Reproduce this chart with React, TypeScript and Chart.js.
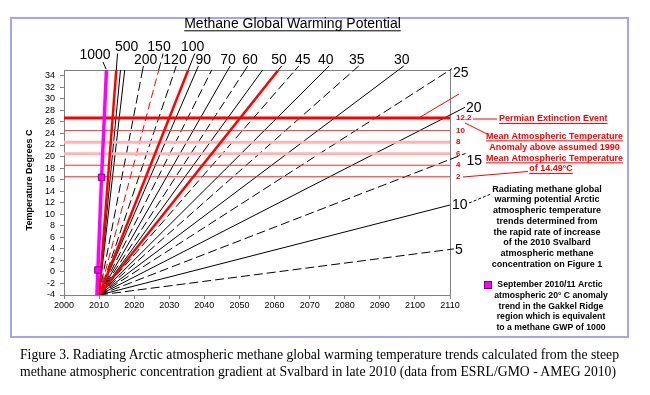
import { useEffect, useRef } from 'react';
import { Chart, registerables } from 'chart.js';

Chart.register(...registerables);

const FONT = '"Liberation Sans", Arial, sans-serif';

// ---- data ----
const xTickYears = [2000, 2010, 2020, 2030, 2040, 2050, 2060, 2070, 2080, 2090, 2100, 2110];
const originYear = 2010;
const originTemp = -4;

// GWP rays radiating from 2010 / -4 C
const gwpValues = [500, 400, 300, 200, 150, 120, 100, 90, 80, 70, 60, 55, 50, 45, 40, 35, 30, 25, 20, 15, 10, 5];
const endYears = [2014.9, 2016.1, 2017.3, 2022.4, 2027.0, 2031.6, 2035.4, 2037.8, 2042.1, 2046.7, 2051.6, 2056.6, 2061.1, 2065.9, 2074.4, 2082.7, 2095.3, 2110, 2110, 2110, 2110, 2110];
const endTemps = [35, 35, 35, 35, 35, 35, 35, 35, 35, 35, 35, 35, 35, 35, 35, 35, 35, 35, 27.2, 19.5, 11.6, 3.9];
const redThickGwps = [500, 100, 50];
const redDashedGwps = [150];
const dashedGwps = [200, 120, 80, 60, 45, 35, 25, 15, 5];

// September 2010/11 Gakkel Ridge trend (GWP 1000)
const magentaYears = [2009.37, 2009.66, 2010.71, 2012.1];
const magentaTemps = [-4, 0.33, 16.4, 35];

// Mean atmospheric temperature levels (14.49 C + anomaly)
const levelTemps = [26.69, 24.49, 22.49, 20.49, 18.49, 16.49];
const levelLabels = ['12.2', '10', '8', '6', '4', '2'];

const radiatingText = [
  'Radiating methane global',
  'warming potential Arctic',
  'atmospheric temperature',
  'trends determined from',
  'the rapid rate of increase',
  'of the 2010 Svalbard',
  'atmospheric methane',
  'concentration on Figure 1',
];
const legendText = [
  'September 2010/11 Arctic',
  'atmospheric 20° C anomaly',
  'trend in the Gakkel Ridge',
  'region which is equivalent',
  'to a methane GWP of 1000',
];
const meanText = [
  'Mean Atmospheric Temperature',
  'Anomaly above assumed 1990',
  'Mean Atmospheric Temperature',
  'of 14.49°C',
];

// label placement (pixels)
const topLabelPos: Record<number, [number, number]> = {
  1000: [95, 55], 500: [126.7, 47.5], 150: [159, 47.5], 100: [192.7, 47.5],
  200: [145.7, 60], 120: [175, 60], 90: [203.3, 60], 70: [228, 60], 60: [250, 60],
  50: [279, 60], 45: [302.7, 60], 40: [325.7, 60], 35: [356.7, 60], 30: [401.7, 60],
};
const sideLabelPos: Record<number, [number, number]> = {
  25: [453, 73], 20: [466, 108], 15: [466.5, 161], 10: [452, 205], 5: [455, 250],
};

function styleFor(g: number) {
  if (redThickGwps.includes(g)) return { color: '#ff0000', width: 2.5, dash: [] as number[] };
  if (redDashedGwps.includes(g)) return { color: '#ff0000', width: 1, dash: [8, 4] };
  if (dashedGwps.includes(g)) return { color: '#000000', width: 1, dash: [9, 4] };
  return { color: '#000000', width: 1, dash: [] as number[] };
}

function txt(
  ctx: CanvasRenderingContext2D, s: string, x: number, y: number,
  o: { size: number; bold?: boolean; color?: string; align?: CanvasTextAlign; underline?: boolean }
) {
  ctx.font = `${o.bold ? 'bold ' : ''}${o.size}px ${FONT}`;
  ctx.fillStyle = o.color || '#000';
  ctx.textAlign = o.align || 'center';
  ctx.textBaseline = 'middle';
  ctx.fillText(s, x, y);
  if (o.underline) {
    const w = ctx.measureText(s).width;
    const x0 = ctx.textAlign === 'center' ? x - w / 2 : ctx.textAlign === 'right' ? x - w : x;
    ctx.fillRect(x0, y + o.size * 0.45, w, 1);
  }
}

function seg(ctx: CanvasRenderingContext2D, x1: number, y1: number, x2: number, y2: number, color: string, width = 1, dash: number[] = []) {
  ctx.save();
  ctx.strokeStyle = color;
  ctx.lineWidth = width;
  ctx.setLineDash(dash);
  ctx.beginPath();
  ctx.moveTo(x1, y1);
  ctx.lineTo(x2, y2);
  ctx.stroke();
  ctx.restore();
}

const annotate = {
  id: 'annotate',
  beforeDraw(chart: any) {
    const ctx = chart.ctx as CanvasRenderingContext2D;
    ctx.save();
    ctx.fillStyle = '#ffffff';
    ctx.fillRect(0, 0, chart.width, chart.height);
    ctx.strokeStyle = '#a4a4f4';
    ctx.lineWidth = 2;
    ctx.strokeRect(11, 18, 617, 319);
    ctx.restore();
  },
  beforeDatasetsDraw(chart: any) {
    const ctx = chart.ctx as CanvasRenderingContext2D;
    const a = chart.chartArea;
    ctx.save();
    ctx.strokeStyle = '#808080';
    ctx.lineWidth = 1;
    ctx.strokeRect(a.left + 0.5, a.top + 0.5, a.right - a.left, a.bottom - a.top);
    ctx.restore();
  },
  afterDraw(chart: any) {
    const ctx = chart.ctx as CanvasRenderingContext2D;
    const xs = chart.scales.x;
    const ys = chart.scales.y;
    ctx.save();

    txt(ctx, 'Methane Global Warming Potential', 292.5, 24, { size: 14, underline: true });

    ctx.save();
    ctx.translate(30, 180);
    ctx.rotate(-Math.PI / 2);
    txt(ctx, 'Temperature Degrees C', 0, 0, { size: 9, bold: true });
    ctx.restore();

    const x0 = xs.getPixelForValue(originYear);
    const y0 = ys.getPixelForValue(originTemp);
    gwpValues.forEach((g, i) => {
      const x1 = xs.getPixelForValue(endYears[i]);
      const y1 = ys.getPixelForValue(endTemps[i]);
      const st = styleFor(g);
      if (topLabelPos[g]) {
        const [lx, ly] = topLabelPos[g];
        const ty = ly + 6;
        const t = (ty - y0) / (y1 - y0);
        seg(ctx, x1, y1, x0 + t * (x1 - x0), ty, '#000', 1, st.dash);
        txt(ctx, String(g), lx, ly, { size: 14 });
      } else if (sideLabelPos[g]) {
        const [lx, ly] = sideLabelPos[g];
        const tx = lx - 1;
        if (tx > x1 + 1) {
          const t = (tx - x0) / (x1 - x0);
          seg(ctx, x1, y1, tx, y0 + t * (y1 - y0), '#000', 1, st.dash);
        }
        txt(ctx, String(g), lx, ly, { size: 14, align: 'left' });
      }
    });
    // 1000 label (magenta trend)
    txt(ctx, '1000', topLabelPos[1000][0], topLabelPos[1000][1], { size: 14 });
    seg(ctx, 103, 62, 106, 69, '#000');

    // red anomaly labels
    levelTemps.forEach((t, i) => {
      txt(ctx, levelLabels[i], 456, ys.getPixelForValue(t), { size: 8, bold: true, color: '#ff0000', align: 'left' });
    });
    seg(ctx, 473, 119, 497, 119, '#ff0000');
    seg(ctx, 465, 123, 487, 134, '#ff0000');
    seg(ctx, 463, 177, 528, 171.5, '#ff0000');
    seg(ctx, 417, 119, 459, 94, '#ff0000');

    txt(ctx, 'Permian Extinction Event', 499, 119, { size: 9, bold: true, color: '#ff0000', align: 'left', underline: true });
    const meanY = [136.3, 147.3, 158.3, 169];
    meanText.forEach((s, i) => {
      txt(ctx, s, i === 3 ? 551 : 554.5, meanY[i], { size: 9, bold: true, color: '#ff0000', underline: i !== 1 });
    });

    // radiating text
    seg(ctx, 469, 203, 491, 194, '#000', 1, [3, 2]);
    radiatingText.forEach((s, i) => {
      txt(ctx, s, 547, 189.3 + i * 10.7, { size: 9, bold: true });
    });

    // legend
    ctx.fillStyle = '#ff00ff';
    ctx.fillRect(485, 282, 6, 6);
    ctx.strokeStyle = '#800080';
    ctx.lineWidth = 1;
    ctx.strokeRect(484.5, 281.5, 7, 7);
    const legY = [285, 295.8, 306.5, 317, 327.5];
    legendText.forEach((s, i) => {
      txt(ctx, s, i === 0 ? 550 : 551, legY[i], { size: 8.7, bold: true });
    });

    ctx.restore();
  },
};

function buildDatasets() {
  const ds: any[] = [];
  gwpValues.forEach((g, i) => {
    const st = styleFor(g);
    const isRed = st.color === '#ff0000';
    ds.push({
      label: `GWP ${g}`,
      data: [{ x: originYear, y: originTemp }, { x: endYears[i], y: endTemps[i] }],
      showLine: true,
      borderColor: st.color,
      borderWidth: st.width,
      borderDash: st.dash,
      pointRadius: 0,
      order: isRed && st.width > 1 ? 2 : 4,
    });
  });
  const levelStyles = [
    { c: '#ff0000', w: 3 }, { c: '#ff3030', w: 1 }, { c: '#ffb4b4', w: 3 },
    { c: '#ffb4b4', w: 3 }, { c: '#ff3030', w: 1 }, { c: '#ff2020', w: 1 },
  ];
  levelTemps.forEach((t, i) => {
    ds.push({
      label: `Level ${levelLabels[i]}`,
      data: [{ x: xTickYears[0], y: t }, { x: xTickYears[xTickYears.length - 1], y: t }],
      showLine: true,
      borderColor: levelStyles[i].c,
      borderWidth: levelStyles[i].w,
      pointRadius: 0,
      order: i === 0 ? 1 : 3,
    });
  });
  ds.push({
    label: 'Gakkel Ridge',
    data: magentaYears.map((x, i) => ({ x, y: magentaTemps[i] })),
    showLine: true,
    borderColor: '#ff00ff',
    borderWidth: 3.5,
    pointStyle: 'rect',
    pointRadius: [0, 4.5, 4.5, 0],
    pointBackgroundColor: '#ff00ff',
    pointBorderColor: '#800080',
    pointBorderWidth: 1,
    order: 0,
  });
  return ds;
}

export default function App() {
  const ref = useRef<HTMLCanvasElement>(null);
  useEffect(() => {
    const chart = new Chart(ref.current!, {
      type: 'scatter',
      data: { datasets: buildDatasets() },
      options: {
        animation: false,
        responsive: false,
        devicePixelRatio: 1,
        layout: { padding: { left: 0, top: 70, right: 200, bottom: 0 } },
        plugins: { legend: { display: false }, tooltip: { enabled: false }, title: { display: false } },
        scales: {
          x: {
            type: 'linear',
            min: xTickYears[0],
            max: xTickYears[xTickYears.length - 1],
            afterFit: (s: any) => { s.height = 100; },
            ticks: {
              stepSize: 10,
              maxRotation: 0,
              autoSkip: false,
              padding: 1,
              color: '#000',
              font: { family: FONT, size: 9 },
              callback: (v: any) => String(v),
            },
            grid: { drawOnChartArea: false, tickLength: 4, color: '#808080' },
            border: { color: '#808080' },
          },
          y: {
            type: 'linear',
            min: -4,
            max: 35,
            afterFit: (s: any) => { s.width = 64; },
            ticks: {
              stepSize: 2,
              includeBounds: false,
              autoSkip: false,
              padding: 5,
              color: '#000',
              font: { family: FONT, size: 9 },
              callback: (v: any) => String(v),
            },
            grid: { drawOnChartArea: false, tickLength: 4, color: '#808080' },
            border: { color: '#808080' },
          },
        },
      },
      plugins: [annotate],
    } as any);
    return () => chart.destroy();
  }, []);

  return (
    <div style={{ position: 'absolute', left: 0, top: 0, width: 650, height: 395, background: '#fff' }}>
      <canvas ref={ref} width={650} height={395} style={{ position: 'absolute', left: 0, top: 0, width: 650, height: 395 }} />
      <div
        style={{
          position: 'absolute', left: 20, top: 346, whiteSpace: 'nowrap', color: '#000',
          fontFamily: '"Liberation Serif", "Times New Roman", serif', fontSize: 13.7, lineHeight: '17px',
        }}
      >
        Figure 3. Radiating Arctic atmospheric methane global warming temperature trends calculated from the steep
        <br />
        methane atmospheric concentration gradient at Svalbard in late 2010 (data from ESRL/GMO - AMEG 2010)
      </div>
    </div>
  );
}
